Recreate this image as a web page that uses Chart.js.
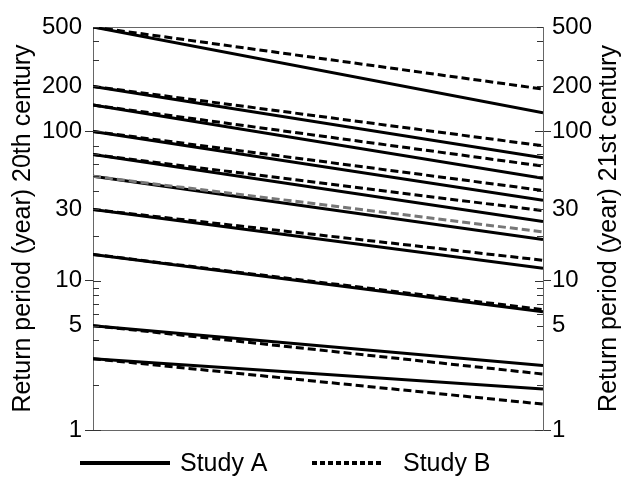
<!DOCTYPE html>
<html>
<head>
<meta charset="utf-8">
<script src="https://cdn.jsdelivr.net/npm/chart.js@4"></script>
<style>
  html, body { margin: 0; padding: 0; background: #fff; }
  #wrap { width: 630px; height: 479px; }
</style>
</head>
<body>
<div id="wrap"><canvas id="returnChart" width="630" height="479"></canvas></div>
<script>
// return periods in the 20th century (left end of every line)
const startPeriods = [500, 200, 150, 100, 70, 50, 30, 15, 5, 3];
// the same events in the 21st century (right end)
const studyAEnd = [133, 66.5, 48.5, 34.6, 24.9, 18.9, 12.1, 6.2, 2.7, 1.88];
const studyBEnd = [192, 80, 58.5, 40.2, 29.4, 21.2, 13.7, 6.4, 2.37, 1.49];
const grayLine = 5; // the Study B line starting at 50 is drawn in gray

const tickValues = [1, 2, 4, 5, 6, 7, 8, 9, 10, 20, 30, 40, 50, 60, 70, 80, 100, 200, 300, 400, 500];
const tickLabels = [1, 5, 10, 30, 100, 200, 500];
const decades = [1, 10, 100];

const FONT = 'Liberation Sans, Arial, sans-serif';

const datasets = [];
startPeriods.forEach((start, i) => {
    datasets.push({
        label: 'Study A',
        data: [{ x: 0, y: start }, { x: 1, y: studyAEnd[i] }],
        borderColor: '#000',
        borderWidth: 3,
        pointRadius: 0,
        yAxisID: 'y'
    });
});
startPeriods.forEach((start, i) => {
    datasets.push({
        label: 'Study B',
        data: [{ x: 0, y: start }, { x: 1, y: studyBEnd[i] }],
        borderColor: i === grayLine ? '#777' : '#000',
        borderWidth: 3,
        borderDash: [8, 4],
        pointRadius: 0,
        order: i === grayLine ? -1 : 0, // gray one sits on top
        yAxisID: 'y'
    });
});

function logAxis(position, width) {
    return {
        type: 'logarithmic',
        position: position,
        min: 1,
        max: 500,
        afterBuildTicks: scale => {
            scale.ticks = tickValues.map(v => ({ value: v }));
        },
        afterFit: scale => {
            scale.width = width;
        },
        ticks: {
            autoSkip: false,
            padding: position === 'left' ? 3 : 1,
            color: '#000',
            font: { family: FONT, size: 24 },
            callback: value => tickLabels.includes(value) ? String(value) : ''
        },
        grid: {
            display: true,
            drawOnChartArea: false,
            drawTicks: true,
            tickLength: 8,
            tickColor: ctx => decades.includes(ctx.tick.value) ? '#333' : 'rgba(0,0,0,0)'
        },
        border: { display: true, color: '#666', width: 1 }
    };
}

// inner tick marks, the right axis title and the legend
const extras = {
    id: 'extras',
    afterDraw(chart) {
        const { ctx, chartArea: a } = chart;
        const yScale = chart.scales.y;
        ctx.save();
        ctx.strokeStyle = '#333';
        ctx.lineWidth = 1;
        ctx.beginPath();
        tickValues.forEach(v => {
            const len = decades.includes(v) ? 8 : 6;
            const py = Math.round(yScale.getPixelForValue(v)) + 0.5;
            ctx.moveTo(a.left, py);
            ctx.lineTo(a.left + len, py);
            ctx.moveTo(a.right, py);
            ctx.lineTo(a.right - len, py);
        });
        ctx.stroke();

        ctx.fillStyle = '#000';
        ctx.font = '25px ' + FONT;
        ctx.textAlign = 'center';
        ctx.textBaseline = 'middle';
        ctx.save();
        ctx.translate(609, (a.top + a.bottom) / 2);
        ctx.rotate(-Math.PI / 2);
        ctx.fillText('Return period (year) 21st century', 0, 0);
        ctx.restore();

        // legend
        const ly = 463;
        ctx.strokeStyle = '#000';
        ctx.lineWidth = 4;
        ctx.beginPath();
        ctx.moveTo(80, ly);
        ctx.lineTo(170, ly);
        ctx.stroke();
        ctx.setLineDash([5, 3]);
        ctx.beginPath();
        ctx.moveTo(312, ly);
        ctx.lineTo(384, ly);
        ctx.stroke();
        ctx.setLineDash([]);
        ctx.textAlign = 'left';
        ctx.fillText('Study A', 180, ly + 1);
        ctx.fillText('Study B', 403, ly + 1);
        ctx.restore();
    }
};

const leftAxis = logAxis('left', 93);
leftAxis.title = {
    display: true,
    text: 'Return period (year) 20th century',
    color: '#000',
    font: { family: FONT, size: 25 },
    padding: { top: 8, bottom: 0 }
};
const rightAxis = logAxis('right', 87);

new Chart(document.getElementById('returnChart'), {
    type: 'line',
    data: { datasets: datasets },
    options: {
        responsive: false,
        animation: false,
        layout: { padding: { top: 27, bottom: 49, left: 0, right: 0 } },
        plugins: {
            legend: { display: false },
            tooltip: { enabled: false }
        },
        scales: {
            x: {
                type: 'linear',
                min: 0,
                max: 1,
                ticks: { display: false },
                grid: { display: false, drawTicks: false },
                border: { display: true, color: '#666', width: 1 }
            },
            x2: {
                type: 'linear',
                position: 'top',
                min: 0,
                max: 1,
                ticks: { display: false },
                grid: { display: false, drawTicks: false },
                border: { display: true, color: '#666', width: 1 }
            },
            y: leftAxis,
            y1: rightAxis
        }
    },
    plugins: [extras]
});
</script>
</body>
</html>
